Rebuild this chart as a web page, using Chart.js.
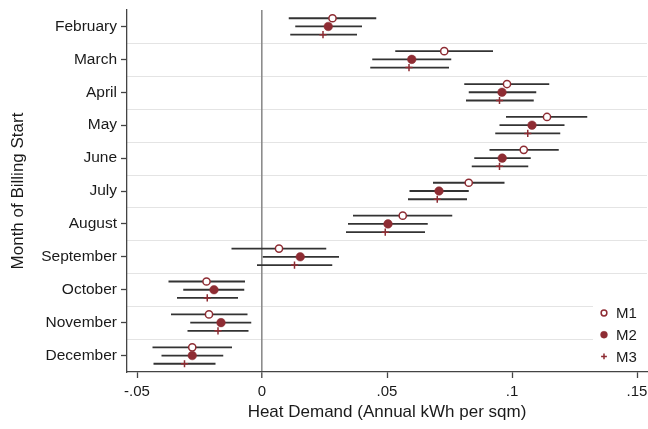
<!DOCTYPE html>
<html>
<head>
<meta charset="utf-8">
<script src="https://cdn.jsdelivr.net/npm/chart.js@4"></script>
<style>
  html, body { margin: 0; padding: 0; background: #fff; }
</style>
</head>
<body>
<canvas id="coefChart" width="648" height="429"></canvas>
<script>
// Month categories (top to bottom)
const months = ['February', 'March', 'April', 'May', 'June', 'July', 'August',
  'September', 'October', 'November', 'December'];

// Point estimates and 95% CI bounds per model
const m1 = [0.0282, 0.0729, 0.0980, 0.1140, 0.1047, 0.0827, 0.0563, 0.0068, -0.0222, -0.0212, -0.0279];
const m1Lo = [0.0107, 0.0533, 0.0809, 0.0976, 0.0910, 0.0684, 0.0364, -0.0122, -0.0374, -0.0364, -0.0438];
const m1Hi = [0.0457, 0.0924, 0.1149, 0.1301, 0.1187, 0.0970, 0.0761, 0.0257, -0.0068, -0.0058, -0.0120];

const m2 = [0.0265, 0.0599, 0.0960, 0.1080, 0.0961, 0.0708, 0.0504, 0.0153, -0.0192, -0.0164, -0.0279];
const m2Lo = [0.0133, 0.0441, 0.0827, 0.0950, 0.0849, 0.0590, 0.0344, 0.0003, -0.0315, -0.0287, -0.0402];
const m2Hi = [0.0400, 0.0757, 0.1097, 0.1210, 0.1075, 0.0827, 0.0663, 0.0308, -0.0071, -0.0043, -0.0155];

const m3 = [0.0244, 0.0588, 0.0950, 0.1063, 0.0950, 0.0701, 0.0493, 0.0130, -0.0219, -0.0176, -0.0310];
const m3Lo = [0.0113, 0.0433, 0.0816, 0.0933, 0.0839, 0.0584, 0.0336, -0.0020, -0.0340, -0.0298, -0.0434];
const m3Hi = [0.0380, 0.0748, 0.1087, 0.1193, 0.1065, 0.0820, 0.0652, 0.0281, -0.0096, -0.0054, -0.0186];

const xTicks = [-0.05, 0, 0.05, 0.1, 0.15];
const xTickLabels = ['-.05', '0', '.05', '.1', '.15'];

const maroon = '#8e2c33';
const ciColor = '#333333';
const textColor = '#1a1a1a';
const fontFamily = '"Liberation Sans", Arial, sans-serif';

function toPoints(vals, lo, hi, shift) {
  return vals.map((v, i) => ({ x: v, y: i + 1 + shift, lo: lo[i], hi: hi[i] }));
}

// horizontal separators between months, drawn under everything
const bandLines = {
  id: 'bandLines',
  beforeDraw(chart) {
    const { ctx, chartArea, scales } = chart;
    ctx.save();
    ctx.strokeStyle = '#e4e4e4';
    ctx.lineWidth = 1;
    for (let i = 1; i < months.length; i++) {
      const y = Math.round(scales.y.getPixelForValue(i + 0.5)) + 0.5;
      ctx.beginPath();
      ctx.moveTo(chartArea.left, y);
      ctx.lineTo(chartArea.right, y);
      ctx.stroke();
    }
    ctx.restore();
  }
};

// confidence interval lines
const ciLines = {
  id: 'ciLines',
  beforeDatasetsDraw(chart) {
    const { ctx, scales } = chart;
    ctx.save();
    ctx.strokeStyle = ciColor;
    ctx.lineWidth = 1.8;
    chart.data.datasets.forEach(ds => {
      ds.data.forEach(p => {
        const y = scales.y.getPixelForValue(p.y);
        ctx.beginPath();
        ctx.moveTo(scales.x.getPixelForValue(p.lo), y);
        ctx.lineTo(scales.x.getPixelForValue(p.hi), y);
        ctx.stroke();
      });
    });
    ctx.restore();
  }
};

// legend sitting in the lower right corner of the plot
const cornerLegend = {
  id: 'cornerLegend',
  afterDraw(chart) {
    const { ctx, chartArea } = chart;
    const x0 = chartArea.right - 54;
    const yTop = chartArea.bottom - 71;
    ctx.save();
    ctx.fillStyle = '#fff';
    ctx.fillRect(x0, yTop, chartArea.right - x0, chartArea.bottom - yTop - 1);
    ctx.font = '15px ' + fontFamily;
    ctx.textBaseline = 'middle';
    chart.data.datasets.forEach((ds, i) => {
      const y = yTop + 12 + i * 21.7;
      ctx.fillStyle = ds.backgroundColor;
      ctx.strokeStyle = ds.borderColor;
      ctx.lineWidth = ds.borderWidth;
      Chart.helpers.drawPoint(ctx, {
        pointStyle: ds.pointStyle,
        radius: ds.pointRadius * 0.8,
        borderWidth: ds.borderWidth,
        rotation: 0
      }, x0 + 11, y);
      ctx.fillStyle = textColor;
      ctx.fillText(ds.label, x0 + 23, y + 1);
    });
    ctx.restore();
  }
};

new Chart(document.getElementById('coefChart'), {
  type: 'scatter',
  data: {
    datasets: [
      {
        label: 'M1',
        data: toPoints(m1, m1Lo, m1Hi, -0.25),
        pointStyle: 'circle',
        pointRadius: 3.6,
        backgroundColor: '#ffffff',
        borderColor: maroon,
        borderWidth: 1.5
      },
      {
        label: 'M2',
        data: toPoints(m2, m2Lo, m2Hi, 0),
        pointStyle: 'circle',
        pointRadius: 4.3,
        backgroundColor: maroon,
        borderColor: maroon,
        borderWidth: 0.5
      },
      {
        label: 'M3',
        data: toPoints(m3, m3Lo, m3Hi, 0.25),
        pointStyle: 'cross',
        pointRadius: 3.6,
        backgroundColor: maroon,
        borderColor: maroon,
        borderWidth: 1.5
      }
    ]
  },
  options: {
    responsive: false,
    animation: false,
    layout: { autoPadding: false, padding: { top: 10, right: 1, left: 0, bottom: 0 } },
    plugins: {
      legend: { display: false },
      tooltip: { enabled: false }
    },
    scales: {
      x: {
        type: 'linear',
        min: -0.054,
        max: 0.154,
        afterBuildTicks: s => { s.ticks = xTicks.map(v => ({ value: v })); },
        afterFit: s => { s.paddingRight = 0; s.height = 57; },
        ticks: {
          color: textColor,
          font: { family: fontFamily, size: 15 },
          padding: 5,
          maxRotation: 0,
          callback: (v) => xTickLabels[xTicks.indexOf(v)]
        },
        grid: {
          drawOnChartArea: true,
          color: c => (c.tick && c.tick.value === 0) ? '#8c8c8c' : 'rgba(0,0,0,0)',
          lineWidth: c => (c.tick && c.tick.value === 0) ? 1.6 : 1,
          tickColor: '#444',
          tickLength: 6,
          tickWidth: 1.3
        },
        border: { color: '#444', width: 1.3 },
        title: {
          display: true,
          text: 'Heat Demand (Annual kWh per sqm)',
          color: textColor,
          font: { family: fontFamily, size: 17 },
          padding: { top: 1, bottom: 6 }
        }
      },
      y: {
        type: 'linear',
        reverse: true,
        min: 0.5,
        max: 11.5,
        afterBuildTicks: s => { s.ticks = months.map((m, i) => ({ value: i + 1 })); },
        afterFit: s => { s.width = 127; s.paddingTop = 0; s.paddingBottom = 0; },
        ticks: {
          color: textColor,
          font: { family: fontFamily, size: 15.5 },
          padding: 4,
          callback: (v) => months[v - 1]
        },
        grid: {
          drawOnChartArea: false,
          tickColor: '#444',
          tickLength: 6,
          tickWidth: 1.3
        },
        border: { color: '#444', width: 1.3 },
        title: {
          display: true,
          text: 'Month of Billing Start',
          color: textColor,
          font: { family: fontFamily, size: 17 },
          padding: { top: 8, bottom: 2 }
        }
      }
    }
  },
  plugins: [bandLines, ciLines, cornerLegend]
});
</script>
</body>
</html>
